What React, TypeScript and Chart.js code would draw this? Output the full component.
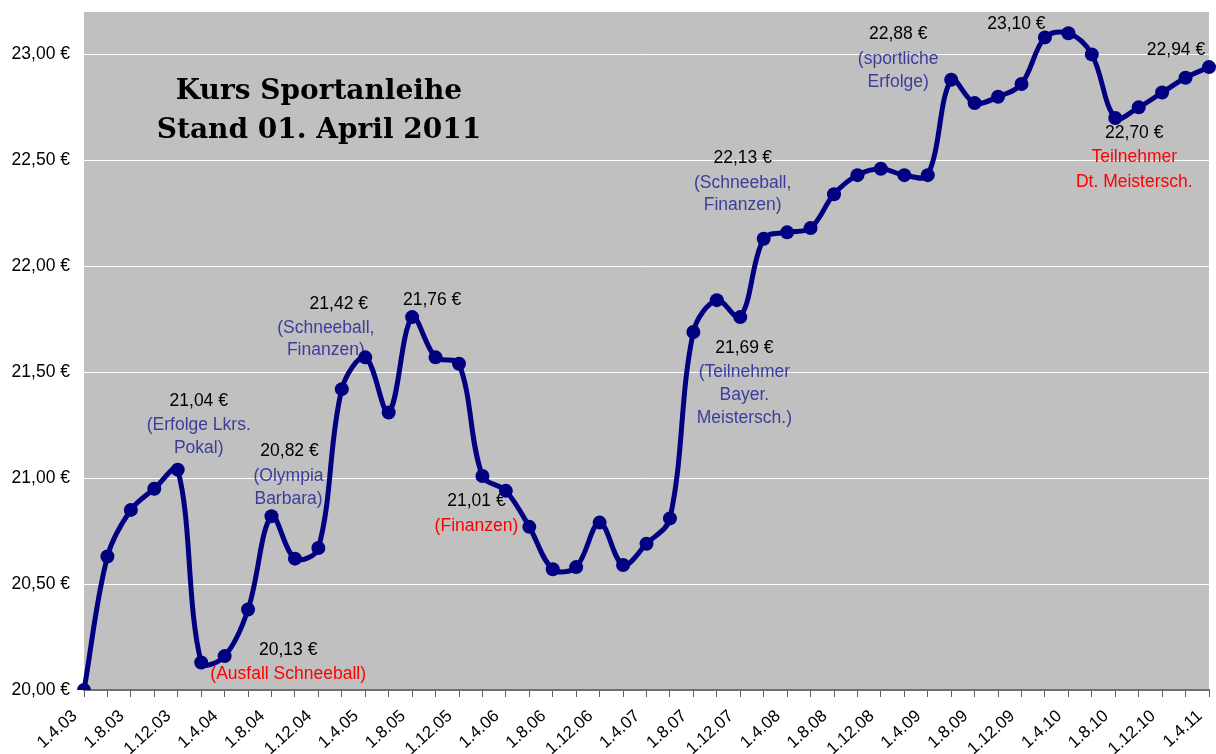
import React, { useEffect, useRef } from 'react';
import { Chart, registerables } from 'chart.js';

Chart.register(...registerables);

const categories = [
  '1.4.03', '1.6.03', '1.8.03', '1.10.03', '1.12.03',
  '1.2.04', '1.4.04', '1.6.04', '1.8.04', '1.10.04', '1.12.04',
  '1.2.05', '1.4.05', '1.6.05', '1.8.05', '1.10.05', '1.12.05',
  '1.2.06', '1.4.06', '1.6.06', '1.8.06', '1.10.06', '1.12.06',
  '1.2.07', '1.4.07', '1.6.07', '1.8.07', '1.10.07', '1.12.07',
  '1.2.08', '1.4.08', '1.6.08', '1.8.08', '1.10.08', '1.12.08',
  '1.2.09', '1.4.09', '1.6.09', '1.8.09', '1.10.09', '1.12.09',
  '1.2.10', '1.4.10', '1.6.10', '1.8.10', '1.10.10', '1.12.10',
  '1.2.11', '1.4.11',
];

const prices = [
  20.0, 20.63, 20.85, 20.95, 21.04,
  20.13, 20.16, 20.38, 20.82, 20.62, 20.67,
  21.42, 21.57, 21.31, 21.76, 21.57, 21.54,
  21.01, 20.94, 20.77, 20.57, 20.58, 20.79,
  20.59, 20.69, 20.81, 21.69, 21.84, 21.76,
  22.13, 22.16, 22.18, 22.34, 22.43, 22.46,
  22.43, 22.43, 22.88, 22.77, 22.8, 22.86,
  23.08, 23.1, 23.0, 22.7, 22.75, 22.82,
  22.89, 22.94,
];

const yTicks = [20, 20.5, 21, 21.5, 22, 22.5, 23];
const yMin = 20;
const yMax = 23.2;

const titleLines = ['Kurs Sportanleihe', 'Stand 01. April 2011'];

// Annotation texts attached to data point indices
const BLACK = '#000000';
const BLUE = '#3d3d9c';
const RED = '#ff0000';

const noteIndex = [5, 4, 8, 11, 14, 17, 29, 26, 37, 42, 48, 44];
const noteLines: string[][] = [
  ['20,13 €', '(Ausfall Schneeball)'],
  ['21,04 €', '(Erfolge Lkrs.', 'Pokal)'],
  ['20,82 €', '(Olympia', 'Barbara)'],
  ['21,42 €', '(Schneeball,', 'Finanzen)'],
  ['21,76 €'],
  ['21,01 €', '(Finanzen)'],
  ['22,13 €', '(Schneeball,', 'Finanzen)'],
  ['21,69 €', '(Teilnehmer', 'Bayer.', 'Meistersch.)'],
  ['22,88 €', '(sportliche', 'Erfolge)'],
  ['23,10 €'],
  ['22,94 €'],
  ['22,70 €', 'Teilnehmer', 'Dt. Meistersch.'],
];
const noteColors: string[][] = [
  [BLACK, RED],
  [BLACK, BLUE, BLUE],
  [BLACK, BLUE, BLUE],
  [BLACK, BLUE, BLUE],
  [BLACK],
  [BLACK, RED],
  [BLACK, BLUE, BLUE],
  [BLACK, BLUE, BLUE, BLUE],
  [BLACK, BLUE, BLUE],
  [BLACK],
  [BLACK],
  [BLACK, RED, RED],
];
// placement offsets (pixels) of each line's centre relative to its data point
const noteDx: number[][] = [
  [87, 87],
  [21, 21, 21],
  [18, 17, 17],
  [-3, -16, -16],
  [20],
  [-6, -6],
  [-21, -21, -21],
  [51, 51, 51, 51],
  [-53, -53, -53],
  [-52],
  [-33],
  [19, 19, 19],
];
const noteDy: number[][] = [
  [-12, 12],
  [-68, -44, -21],
  [-65, -40, -17],
  [-85, -61, -39],
  [-17],
  [25, 50],
  [-81, -56, -34],
  [16, 40, 63, 86],
  [-46, -21, 2],
  [-9],
  [-17],
  [15, 39, 64],
];

const FONT = '"Liberation Sans", Arial, sans-serif';

const plotBgPlugin = {
  id: 'plotBg',
  beforeDraw(chart: any) {
    const { ctx, chartArea } = chart;
    ctx.save();
    ctx.fillStyle = '#c0c0c0';
    ctx.fillRect(chartArea.left, chartArea.top, chartArea.right - chartArea.left, chartArea.bottom - chartArea.top);
    ctx.restore();
  },
};

const textPlugin = {
  id: 'texts',
  beforeDatasetsDraw(chart: any) {
    const { ctx, chartArea, scales } = chart;
    ctx.save();
    // title
    ctx.fillStyle = '#000000';
    ctx.font = 'bold 28px "DejaVu Serif", serif';
    ctx.textAlign = 'center';
    ctx.textBaseline = 'alphabetic';
    ctx.fillText(titleLines[0], chartArea.left + 235, chartArea.top + 87);
    ctx.fillText(titleLines[1], chartArea.left + 235, chartArea.top + 126);
    // annotations
    ctx.font = `17.5px ${FONT}`;
    ctx.textBaseline = 'middle';
    noteIndex.forEach((idx, n) => {
      const px = scales.x.getPixelForValue(idx);
      const py = scales.y.getPixelForValue(prices[idx]);
      noteLines[n].forEach((line, k) => {
        ctx.fillStyle = noteColors[n][k];
        ctx.fillText(line, px + noteDx[n][k], py + noteDy[n][k]);
      });
    });
    ctx.restore();
  },
};

export default function App() {
  const canvasRef = useRef<HTMLCanvasElement | null>(null);

  useEffect(() => {
    if (!canvasRef.current) return;
    const chart = new Chart(canvasRef.current, {
      type: 'line',
      data: {
        labels: categories,
        datasets: [
          {
            data: prices,
            borderColor: '#000080',
            backgroundColor: '#000080',
            borderWidth: 5,
            pointRadius: 7,
            pointBackgroundColor: '#000080',
            pointBorderColor: '#000080',
            pointBorderWidth: 0,
            tension: 0.35,
            fill: false,
          },
        ],
      },
      options: {
        animation: false,
        responsive: true,
        maintainAspectRatio: false,
        layout: { padding: { top: 12, right: 0, left: 0, bottom: 0 } },
        plugins: {
          legend: { display: false },
          tooltip: { enabled: false },
          title: { display: false },
        },
        scales: {
          x: {
            type: 'category',
            offset: false,
            afterFit(scale: any) {
              scale.height = 64;
              scale.paddingLeft = 0;
              scale.paddingRight = 0;
              scale.paddingTop = 0;
              scale.paddingBottom = 0;
            },
            grid: {
              display: true,
              drawOnChartArea: false,
              drawTicks: true,
              tickLength: 7,
              color: '#606060',
              lineWidth: 1,
            },
            border: { display: true, color: '#707070', width: 2 },
            ticks: {
              autoSkip: false,
              minRotation: 42,
              maxRotation: 42,
              padding: 9,
              labelOffset: -9,
              color: '#000000',
              font: { family: FONT, size: 17 },
              callback: (_v: any, i: number) => (i % 2 === 0 ? categories[i] : ''),
            },
          },
          y: {
            min: yMin,
            max: yMax,
            afterFit(scale: any) {
              scale.width = 84;
              scale.paddingLeft = 0;
              scale.paddingRight = 0;
              scale.paddingTop = 0;
              scale.paddingBottom = 0;
            },
            afterBuildTicks(scale: any) {
              scale.ticks = yTicks.map((v) => ({ value: v }));
            },
            grid: { color: '#ffffff', lineWidth: 1, drawTicks: false },
            border: { display: false },
            ticks: {
              padding: 14,
              color: '#000000',
              font: { family: FONT, size: 17.5 },
              callback: (v: any) => Number(v).toFixed(2).replace('.', ',') + ' €',
            },
          },
        },
      },
      plugins: [plotBgPlugin, textPlugin],
    });
    return () => chart.destroy();
  }, []);

  return (
    <div style={{ position: 'fixed', left: 0, top: 0, width: 1216, height: 754, background: '#ffffff' }}>
      <canvas ref={canvasRef} />
    </div>
  );
}
